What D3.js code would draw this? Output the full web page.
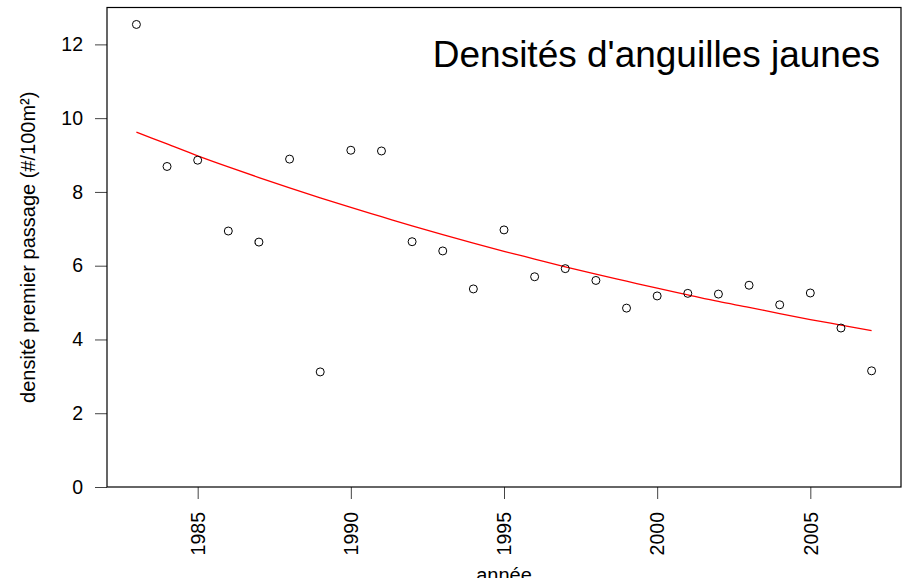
<!DOCTYPE html>
<html>
<head>
<meta charset="utf-8">
<script src="https://cdn.jsdelivr.net/npm/d3@7"></script>
<style>
  body { margin: 0; background: #fff; }
  text { font-family: "Liberation Sans", Arial, sans-serif; }
</style>
</head>
<body>
<div id="my_dataviz"></div>
<script>
// data
var years = [1983, 1984, 1985, 1986, 1987, 1988, 1989, 1990, 1991, 1992, 1993, 1994, 1995,
             1996, 1997, 1998, 1999, 2000, 2001, 2002, 2003, 2004, 2005, 2006, 2007];
var densite = [12.54, 8.69, 8.86, 6.94, 6.64, 8.89, 3.12, 9.13, 9.11, 6.65, 6.40, 5.37, 6.97,
               5.70, 5.92, 5.60, 4.85, 5.18, 5.25, 5.23, 5.47, 4.94, 5.26, 4.31, 3.15];
// fitted curve (red), read at each year
var ajuste = [9.62, 9.30, 8.98, 8.68, 8.39, 8.11, 7.84, 7.58, 7.33, 7.08, 6.84, 6.61, 6.39,
              6.18, 5.97, 5.77, 5.58, 5.39, 5.21, 5.03, 4.87, 4.70, 4.54, 4.39, 4.24];
var xTicks = [1985, 1990, 1995, 2000, 2005];
var yTicks = [0, 2, 4, 6, 8, 10, 12];

var W = 914, H = 578;
var margin = {top: 7.5, right: 13, bottom: 91, left: 107};
var width = W - margin.left - margin.right,
    height = H - margin.top - margin.bottom;

var svg = d3.select("#my_dataviz")
  .append("svg")
  .attr("width", W)
  .attr("height", H)
  .append("g")
  .attr("transform", "translate(" + margin.left + "," + margin.top + ")");

var x = d3.scaleLinear().domain([1982.04, 2007.96]).range([0, width]);
var y = d3.scaleLinear().domain([0, 13]).range([height, 0]);

// y axis
var yAxis = svg.append("g")
  .style("font-size", "19.5px")
  .call(d3.axisLeft(y).tickValues(yTicks).tickSize(12).tickPadding(12));
yAxis.select(".domain").remove();
yAxis.selectAll("line").attr("stroke", "#444");
yAxis.selectAll("text").attr("fill", "#000").style("font-family", "Liberation Sans, Arial, sans-serif");

// x axis, rotated labels
var xAxis = svg.append("g")
  .attr("transform", "translate(0," + height + ")")
  .style("font-size", "19.5px")
  .call(d3.axisBottom(x).tickValues(xTicks).tickSize(12).tickFormat(d3.format("d")));
xAxis.select(".domain").remove();
xAxis.selectAll("line").attr("stroke", "#444");
xAxis.selectAll("text")
  .attr("fill", "#000")
  .style("font-family", "Liberation Sans, Arial, sans-serif")
  .attr("y", 0)
  .attr("x", -25)
  .attr("dy", "0.35em")
  .attr("transform", "rotate(-90)")
  .style("text-anchor", "end");

// box
svg.append("rect")
  .attr("x", 0).attr("y", 0)
  .attr("width", width).attr("height", height)
  .attr("fill", "none")
  .attr("stroke", "#000")
  .attr("stroke-width", 1.2);

// axis titles
svg.append("text")
  .attr("x", width / 2)
  .attr("y", height + 95)
  .style("text-anchor", "middle")
  .style("font-size", "20px")
  .text("année");
svg.append("text")
  .attr("x", -height / 2)
  .attr("y", -72)
  .attr("transform", "rotate(-90)")
  .style("text-anchor", "middle")
  .style("font-size", "20px")
  .text("densité premier passage (#/100m²)");

// fitted line
var line = d3.line()
  .x(function(d, i) { return x(years[i]); })
  .y(function(d) { return y(d); })
  .curve(d3.curveMonotoneX);
svg.append("path")
  .datum(ajuste)
  .attr("d", line)
  .attr("fill", "none")
  .attr("stroke", "#ff0000")
  .attr("stroke-width", 1.3);

// points
svg.selectAll("circle.pt")
  .data(densite)
  .enter()
  .append("circle")
  .attr("class", "pt")
  .attr("cx", function(d, i) { return x(years[i]); })
  .attr("cy", function(d) { return y(d); })
  .attr("r", 4)
  .attr("fill", "none")
  .attr("stroke", "#000")
  .attr("stroke-width", 1);

// title
svg.append("text")
  .attr("x", 880 - margin.left)
  .attr("y", 67 - margin.top)
  .style("text-anchor", "end")
  .style("font-size", "37px")
  .text("Densités d'anguilles jaunes");
</script>
</body>
</html>
